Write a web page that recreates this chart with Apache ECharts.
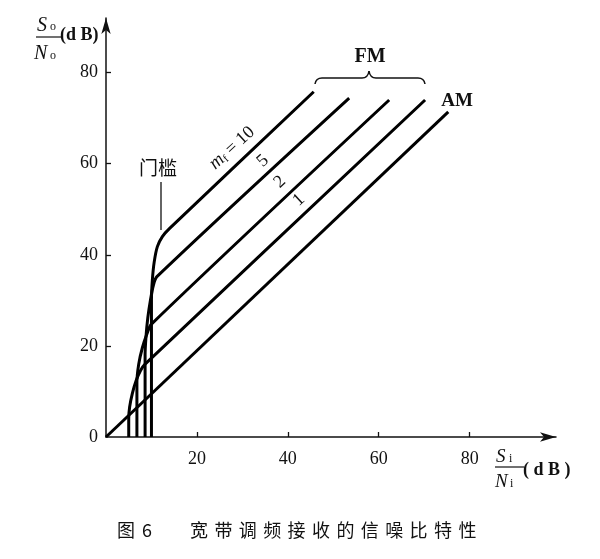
<!DOCTYPE html>
<html>
<head>
<meta charset="utf-8">
<script src="https://cdn.jsdelivr.net/npm/echarts@6/dist/echarts.min.js"></script>
<style>
html,body{margin:0;padding:0;background:#fff;}
#chart{width:600px;height:559px;}
</style>
</head>
<body>
<div id="chart"></div>
<script>
// S/N curves, x = Si/Ni (dB), y = So/No (dB)
var xTicks = [20, 40, 60, 80];
var yTicks = [0, 20, 40, 60, 80];
var amLine = [[0, 0], [75.3, 71.4]];
var fm1 = [[70.2, 74], [8.6, 16.0], [7.6, 14.6], [6.6, 12.3], [5.8, 9.6], [5.2, 6.6], [5.0, 4.0], [5.0, 0]];
var fm2 = [[62.3, 74], [10.0, 24.8], [9.0, 22.6], [8.0, 19.6], [7.2, 16.0], [6.8, 12.0], [6.8, 0]];
var fm5 = [[53.5, 74.4], [11.2, 35.2], [10.4, 33.2], [9.8, 30.2], [9.2, 26.2], [8.8, 22.0], [8.6, 18.0], [8.6, 0]];
var fm10 = [[45.7, 75.8], [14.0, 45.8], [12.4, 44.0], [11.3, 41.8], [10.6, 38.4], [10.2, 34.5], [10.0, 30.0], [10.0, 0]];
var curveNames = ['AM', 'mf=1', 'mf=2', 'mf=5', 'mf=10'];
var curveData = [amLine, fm1, fm2, fm5, fm10];

var serif = '"Liberation Serif", "DejaVu Serif", serif';
var cjk = '"Noto Sans CJK SC", sans-serif';

var chart = echarts.init(document.getElementById('chart'));

var series = [];
for (var i = 0; i < curveData.length; i++) {
	series.push({
		name: curveNames[i],
		type: 'line',
		data: curveData[i],
		smooth: i == 0 ? false : 0.3,
		symbol: 'none',
		lineStyle: {color: '#000', width: 3},
		z: 3
	});
}

function txt(x, y, s, font, align, valign, rot) {
	return {type: 'text', x: x, y: y, rotation: rot || 0,
		style: {text: s, font: font, fill: '#111', align: align || 'left', verticalAlign: valign || 'top'}};
}
function seg(x1, y1, x2, y2, w) {
	return {type: 'line', shape: {x1: x1, y1: y1, x2: x2, y2: y2}, style: {stroke: '#111', lineWidth: w}};
}
function curl(x1, y1, cx, cy, x2, y2) {
	return {type: 'bezierCurve', shape: {x1: x1, y1: y1, cpx1: cx, cpy1: cy, x2: x2, y2: y2},
		style: {stroke: '#111', fill: null, lineWidth: 1.5}};
}

// caption characters spaced out like the print
var capText = '宽带调频接收的信噪比特性';
var graphics = [];
for (var c = 0; c < capText.length; c++) {
	graphics.push(txt(190 + c * 24.4, 521, capText.charAt(c), '18px ' + cjk));
}
graphics.push(txt(117, 521, '图', '18px ' + cjk));
graphics.push(txt(142, 521, '6', '18px ' + cjk));

// y axis name So/No (dB)
graphics.push(txt(37, 16, 'S', 'italic 20px ' + serif));
graphics.push(txt(50, 21, 'o', '12px ' + serif));
graphics.push(seg(36, 37, 61, 37, 1.2));
graphics.push(txt(34, 44, 'N', 'italic 20px ' + serif));
graphics.push(txt(50, 50, 'o', '12px ' + serif));
graphics.push(txt(60, 26, '(d B)', 'bold 18px ' + serif));

// x axis name Si/Ni (dB)
graphics.push(txt(496, 447, 'S', 'italic 19px ' + serif));
graphics.push(txt(509, 453, 'i', '12px ' + serif));
graphics.push(seg(495, 467, 524, 467, 1.2));
graphics.push(txt(495, 472, 'N', 'italic 19px ' + serif));
graphics.push(txt(510, 478, 'i', '12px ' + serif));
graphics.push(txt(523, 461, '( d B )', 'bold 18px ' + serif));

// annotations
graphics.push(txt(139, 158, '门槛', '19px ' + cjk));
graphics.push(seg(161, 182, 161, 230, 1.3));
graphics.push({type: 'text', x: 232, y: 148, rotation: 0.74,
	style: {text: '{m|m}{f|f}{n| = 10}', align: 'center', verticalAlign: 'middle',
		rich: {
			m: {font: 'italic 19px ' + serif, fill: '#111'},
			f: {font: '11px ' + serif, fill: '#111', padding: [8, 0, 0, 0]},
			n: {font: '18px ' + serif, fill: '#111'}
		}}});
graphics.push(txt(263, 161, '5', '18px ' + serif, 'center', 'middle', 0.74));
graphics.push(txt(280, 182, '2', '18px ' + serif, 'center', 'middle', 0.74));
graphics.push(txt(299, 200, '1', '18px ' + serif, 'center', 'middle', 0.74));
graphics.push(txt(370, 57, 'FM', 'bold 20px ' + serif, 'center', 'middle'));
graphics.push(txt(457, 101, 'AM', 'bold 19px ' + serif, 'center', 'middle'));
// brace over the FM curves
graphics.push(curl(315, 84, 316, 78, 322, 78));
graphics.push(seg(322, 78, 362, 78, 1.5));
graphics.push(curl(362, 78, 368, 78, 369, 71));
graphics.push(curl(369, 71, 370, 78, 376, 78));
graphics.push(seg(376, 78, 418, 78, 1.5));
graphics.push(curl(418, 78, 424, 78, 425, 84));

var option = {
	backgroundColor: '#fff',
	animation: false,
	grid: {left: 106, right: 44, top: 18, bottom: 122},
	xAxis: {
		type: 'value', min: 0, max: 99, interval: 20,
		splitLine: {show: false},
		axisLine: {lineStyle: {color: '#111', width: 1.5}, symbol: ['none', 'arrow'], symbolSize: [7, 16]},
		axisTick: {inside: true, length: 5, lineStyle: {color: '#111', width: 1.3}, customValues: xTicks},
		axisLabel: {customValues: xTicks, margin: 13, color: '#111', fontSize: 18, fontFamily: serif}
	},
	yAxis: {
		type: 'value', min: 0, max: 92, interval: 20,
		splitLine: {show: false},
		axisLine: {lineStyle: {color: '#111', width: 1.5}, symbol: ['none', 'arrow'], symbolSize: [7, 16]},
		axisTick: {inside: true, length: 5, lineStyle: {color: '#111', width: 1.3}, customValues: xTicks},
		axisLabel: {customValues: yTicks, margin: 8, color: '#111', fontSize: 18, fontFamily: serif}
	},
	series: series,
	graphic: graphics
};
chart.setOption(option);
</script>
</body>
</html>
